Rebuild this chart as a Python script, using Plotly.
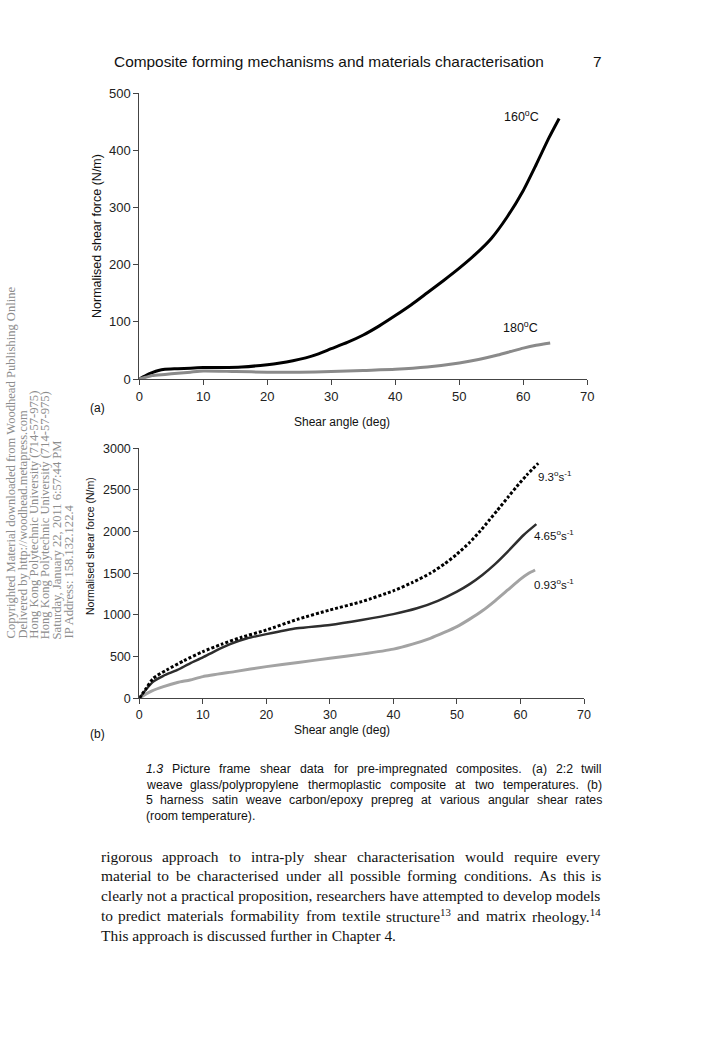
import re
import plotly.graph_objects as go

W, H = 707, 1060
OFF = 0                      # body margin removed by post_script below
FW, FH = W - 2 * OFF, H - 2 * OFF

# ---------- data (a) ----------
angle_160 = [0, 1, 2, 3, 4, 6, 8, 10, 13, 16, 20, 22, 24, 26, 28, 30, 32.5, 35, 37.5, 40, 42.5, 45, 47.5, 50, 52.5, 55, 57.5, 60, 62, 64, 65.6]
force_160 = [0, 6, 11, 15, 17, 18, 19, 20, 20, 21, 25, 28, 32, 37, 44, 53, 64, 77, 93, 111, 130, 151, 172, 194, 218, 246, 284, 330, 375, 422, 456]
angle_180 = [0, 1, 2, 4, 6, 8, 10, 15, 20, 25, 30, 35, 40, 45, 50, 53, 56, 58, 60, 62, 64.2]
force_180 = [0, 3, 6, 8, 10, 12, 14, 13, 12, 12, 13, 15, 17, 21, 28, 34, 42, 48, 54, 59, 63]

# ---------- data (b) ----------
angle_93 = [0, 1, 2.2, 4.3, 7, 10, 13, 16, 20, 25, 30, 35, 40, 43, 45.8, 48, 50, 52, 53.7, 55, 56.3, 58, 59.4, 61, 62.8]
force_93 = [0, 110, 240, 340, 450, 560, 650, 730, 820, 950, 1060, 1160, 1290, 1390, 1500, 1610, 1730, 1870, 2010, 2130, 2250, 2410, 2540, 2680, 2820]
angle_465 = [0, 1, 2.2, 3.8, 6, 8, 10, 12, 14.3, 17, 20, 24.8, 30, 35, 40, 43.7, 47, 50, 52, 54, 56, 58, 60.5, 62.5]
force_465 = [0, 100, 200, 270, 340, 420, 490, 570, 650, 720, 770, 840, 880, 940, 1010, 1080, 1170, 1280, 1370, 1480, 1610, 1760, 1960, 2090]
angle_093 = [0, 1, 2, 3.8, 6, 8, 10, 15, 20, 25, 30, 35, 40, 43, 45.8, 48, 50, 52, 54, 56, 58, 60, 61.3, 62.3]
force_093 = [0, 50, 90, 140, 190, 220, 260, 320, 380, 430, 480, 530, 590, 650, 720, 790, 860, 950, 1050, 1170, 1300, 1430, 1500, 1540]

xticks_a = [0, 10, 20, 30, 40, 50, 60, 70]
yticks_a = [0, 100, 200, 300, 400, 500]
yticks_b = [0, 500, 1000, 1500, 2000, 2500, 3000]

SANS = "Liberation Sans, Arial, sans-serif"
SERIF = "Liberation Serif, Times New Roman, serif"

# approximate advance widths (1/1000 em) for ASCII 32..126
_chars = "".join(chr(c) for c in range(32, 127))
_helv = [278, 278, 355, 556, 556, 889, 667, 191, 333, 333, 389, 584, 278, 333, 278, 278,
         556, 556, 556, 556, 556, 556, 556, 556, 556, 556, 278, 278, 584, 584, 584, 556,
         1015, 667, 667, 722, 722, 667, 611, 778, 722, 278, 500, 667, 556, 833, 722, 778,
         667, 778, 722, 667, 611, 722, 667, 944, 667, 667, 611, 278, 278, 278, 469, 556,
         333, 556, 556, 500, 556, 556, 278, 556, 556, 222, 222, 500, 222, 833, 556, 556,
         556, 556, 333, 500, 278, 556, 500, 722, 500, 500, 500, 334, 260, 334, 584]
_times = [250, 333, 408, 500, 500, 833, 778, 180, 333, 333, 500, 564, 250, 333, 250, 278,
          500, 500, 500, 500, 500, 500, 500, 500, 500, 500, 278, 278, 564, 564, 564, 444,
          921, 722, 667, 667, 722, 611, 556, 722, 722, 333, 389, 722, 611, 889, 722, 722,
          556, 722, 667, 556, 611, 722, 722, 944, 722, 722, 611, 333, 278, 333, 469, 500,
          333, 444, 500, 444, 500, 444, 333, 500, 500, 278, 278, 500, 278, 778, 500, 500,
          500, 500, 333, 389, 278, 500, 500, 722, 500, 500, 444, 480, 200, 480, 541]
HELV = dict(zip(_chars, _helv))
TIMES = dict(zip(_chars, _times))


def em_width(s, table):
    """width in em of a string that may hold <sup>..</sup> and <i>..</i>"""
    total = 0.0
    for part in re.split(r"(<sup>.*?</sup>)", s):
        inner = re.sub(r"<[^>]+>", "", part)
        k = 0.7 if part.startswith("<sup>") else 1.0
        total += k * sum(table.get(c, 500) for c in inner) / 1000
    return total


def px(x):
    return (x - OFF) / FW


def py(y):
    return 1 - (y - OFF) / FH


fig = go.Figure()
spl = dict(shape="spline", smoothing=0.6)
fig.add_trace(go.Scatter(x=angle_160, y=force_160, mode="lines", line=dict(color="#000000", width=3, **spl), xaxis="x", yaxis="y"))
fig.add_trace(go.Scatter(x=angle_180, y=force_180, mode="lines", line=dict(color="#8a8a8a", width=3, **spl), xaxis="x", yaxis="y"))
fig.add_trace(go.Scatter(x=angle_093, y=force_093, mode="lines", line=dict(color="#a3a3a3", width=3, **spl), xaxis="x2", yaxis="y2"))
fig.add_trace(go.Scatter(x=angle_465, y=force_465, mode="lines", line=dict(color="#2e2e2e", width=2.5, **spl), xaxis="x2", yaxis="y2"))
fig.add_trace(go.Scatter(x=angle_93, y=force_93, mode="lines", line=dict(color="#000000", width=3, dash="3px,2px", **spl), xaxis="x2", yaxis="y2"))

axis_common = dict(showgrid=False, zeroline=False, showline=True, linecolor="#444444", linewidth=1,
                   ticks="outside", ticklen=5, tickwidth=1, tickcolor="#444444", automargin=False,
                   tickfont=dict(family=SANS, size=13, color="#222222"))

fig.update_layout(
    width=FW, height=FH, margin=dict(l=0, r=0, t=0, b=0),
    paper_bgcolor="white", plot_bgcolor="white", showlegend=False,
    xaxis=dict(domain=[px(139.3), px(587.3)], range=[0, 70], tickvals=xticks_a, anchor="y", **axis_common),
    yaxis=dict(domain=[py(379), py(93.3)], range=[0, 500], tickvals=yticks_a, anchor="x", **axis_common),
    xaxis2=dict(domain=[px(139.3), px(584)], range=[0, 70], tickvals=xticks_a, anchor="y2", **axis_common),
    yaxis2=dict(domain=[py(698.3), py(448.3)], range=[0, 3000], tickvals=yticks_b, anchor="x2", **axis_common),
)
fig.layout.xaxis2.tickfont.size = 12.5
fig.layout.yaxis2.tickfont.size = 12.5


def ann(x, y, text, size=12, family=SANS, color="#111111", xanchor="left", yanchor="middle", angle=0):
    fig.add_annotation(x=px(x), y=py(y), xref="paper", yref="paper", text=text, showarrow=False,
                       font=dict(family=family, size=size, color=color), xanchor=xanchor, yanchor=yanchor,
                       textangle=angle, align="left", borderpad=0)


def justified(line, left, right, y, size, family, table, color="#111111", justify=True):
    words = line.split(" ")
    if not justify or len(words) < 2:
        ann(left, y, line, size=size, family=family, color=color)
        return
    widths = [em_width(w, table) * size for w in words]
    gap = (right - left - sum(widths)) / (len(words) - 1)
    x = left
    for i, (w, wd) in enumerate(zip(words, widths)):
        if i == 0:
            ann(left, y, w, size=size, family=family, color=color, xanchor="left")
        elif i == len(words) - 1:
            ann(right, y, w, size=size, family=family, color=color, xanchor="right")
        else:
            ann(x + wd / 2, y, w, size=size, family=family, color=color, xanchor="center")
        x += wd + gap


# header
header = "Composite forming mechanisms and materials characterisation"
hsize = (543 - 113) / em_width(header, HELV)
ann(113, 61, header, size=hsize)
ann(603, 61, "7", size=hsize, xanchor="right")

# panel (a) texts
ann(97, 236, "Normalised shear force (N/m)", size=12.5, xanchor="center", angle=-90)
ann(342, 422, "Shear angle (deg)", size=12, xanchor="center")
ann(89, 408, "(a)", size=12)
ann(503, 116, "160<sup>o</sup>C", size=12.5)
ann(502, 327, "180<sup>o</sup>C", size=12.5)

# panel (b) texts
ann(90, 546, "Normalised shear force (N/m)", size=10.5, xanchor="center", angle=-90)
ann(342, 730, "Shear angle (deg)", size=12, xanchor="center")
ann(89, 734, "(b)", size=12)
ann(537, 476, "9.3<sup>o</sup>s<sup>-1</sup>", size=11.5)
ann(533, 535, "4.65<sup>o</sup>s<sup>-1</sup>", size=11.5)
ann(533, 584, "0.93<sup>o</sup>s<sup>-1</sup>", size=11.5)

# caption
cap = [
    "<i>1.3</i> Picture frame shear data for pre-impregnated composites. (a) 2:2 twill",
    "weave glass/polypropylene thermoplastic composite at two temperatures. (b)",
    "5 harness satin weave carbon/epoxy prepreg at various angular shear rates",
    "(room temperature).",
]
for i, t in enumerate(cap):
    justified(t, 145, 603, 769 + i * 15.6, 12.3, SANS, HELV, justify=(i < 3))

# body text
body = [
    "rigorous approach to intra-ply shear characterisation would require every",
    "material to be characterised under all possible forming conditions. As this is",
    "clearly not a practical proposition, researchers have attempted to develop models",
    "to predict materials formability from textile structure<sup>13</sup> and matrix rheology.<sup>14</sup>",
    "This approach is discussed further in Chapter 4.",
]
bsize = (600 - 100) / em_width(body[2], TIMES)
for i, t in enumerate(body):
    justified(t, 100, 602, 856 + i * 19.8, bsize, SERIF, TIMES, justify=(i in (0, 1, 3)))

# watermark
wm = [
    "Copyrighted Material downloaded from Woodhead Publishing Online",
    "Delivered by http://woodhead.metapress.com",
    "Hong Kong Polytechnic University (714-57-975)",
    "Hong Kong Polytechnic University (714-57-975)",
    "Saturday, January 22, 2011 6:57:44 PM",
    "IP Address: 158.132.122.4",
]
wsize = (640 - 287) / em_width(wm[0], TIMES)
for i, t in enumerate(wm):
    ann(10.5 + i * 11.6, 640, t, size=wsize, family=SERIF, color="#8c8c8c",
        xanchor="center", yanchor="bottom", angle=-90)

fig.write_html("out.html", config={"displayModeBar": False},
               post_script="document.body.style.margin='0';")
